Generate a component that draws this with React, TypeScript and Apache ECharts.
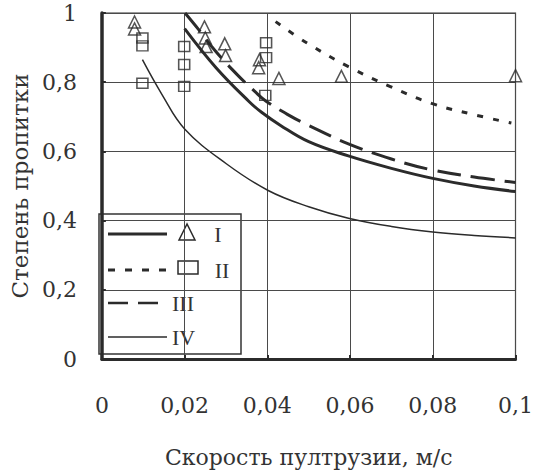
import React, { useEffect, useRef } from "react";
import * as echarts from "echarts";

// ---- data ----
const xTickLabels = ["0", "0,02", "0,04", "0,06", "0,08", "0,1"];
const yTickLabels = ["0", "0,2", "0,4", "0,6", "0,8", "1"];

const curveIx = [0.02, 0.0276, 0.0355, 0.0386, 0.0432, 0.05, 0.0596, 0.07, 0.08, 0.09, 0.1];
const curveIy = [0.955, 0.842, 0.745, 0.713, 0.675, 0.628, 0.587, 0.551, 0.522, 0.5, 0.484];

const curveIIx = [0.042, 0.0495, 0.0596, 0.0696, 0.0799, 0.09, 0.099];
const curveIIy = [0.975, 0.914, 0.845, 0.788, 0.738, 0.706, 0.682];

const curveIIIx = [0.0201, 0.0234, 0.0276, 0.0327, 0.0369, 0.0397, 0.0456, 0.05, 0.0596, 0.07, 0.08, 0.09, 0.1];
const curveIIIy = [1.0, 0.952, 0.888, 0.822, 0.774, 0.745, 0.702, 0.675, 0.622, 0.578, 0.546, 0.526, 0.51];

const curveIVx = [0.0098, 0.0145, 0.02, 0.03, 0.0402, 0.05, 0.0596, 0.07, 0.08, 0.09, 0.1];
const curveIVy = [0.865, 0.765, 0.665, 0.565, 0.487, 0.44, 0.407, 0.383, 0.367, 0.357, 0.35];

const trianglesX = [0.0079, 0.0079, 0.0248, 0.025, 0.0252, 0.0297, 0.0299, 0.0381, 0.0379, 0.0428, 0.0579, 0.1];
const trianglesY = [0.974, 0.954, 0.96, 0.928, 0.903, 0.911, 0.877, 0.865, 0.842, 0.811, 0.817, 0.819];

const squaresX = [0.0098, 0.0098, 0.0098, 0.0199, 0.0199, 0.0199, 0.0397, 0.0397, 0.0395];
const squaresY = [0.928, 0.905, 0.797, 0.903, 0.851, 0.788, 0.914, 0.871, 0.762];

const seriesNames = ["I", "II", "III", "IV"];
const xTitle = "Скорость пултрузии, м/с";
const yTitle = "Степень пропитки";

const zip = (xs: number[], ys: number[]) => xs.map((x, i) => [x, ys[i]]);

const INK = "#2b2b2b";
const TXT = "#333333";
const FONT = "DejaVu Serif";
const LFONT = "Liberation Serif";

export default function App() {
  const ref = useRef<HTMLDivElement>(null);
  useEffect(() => {
    if (!ref.current) return;
    const chart = echarts.init(ref.current, undefined, { renderer: "svg" });

    const lx1 = 108, lx2 = 167;
    const rows = [234, 270, 303, 337];
    const lgFont = `22px "${LFONT}"`;
    const option: any = {
      animation: false,
      backgroundColor: "#ffffff",
      grid: {
        left: 95, right: 13, top: 13, bottom: 111,
        show: true, borderColor: "#333", borderWidth: 1.2,
      },
      xAxis: {
        type: "value", min: 0, max: 0.1, interval: 0.02,
        name: xTitle, nameLocation: "middle", nameGap: 87,
        nameTextStyle: { fontFamily: FONT, fontSize: 22, color: TXT },
        axisLine: { show: true, lineStyle: { color: INK, width: 3 } },
        axisTick: { show: true, inside: true, length: 4, lineStyle: { color: INK, width: 2 } },
        axisLabel: {
          margin: 35, fontFamily: FONT, fontSize: 22, color: TXT,
          formatter: (v: number) => xTickLabels[Math.round(v / 0.02)] ?? "",
        },
        splitLine: { show: true, lineStyle: { color: "#4a4a4a", width: 1 } },
      },
      yAxis: {
        type: "value", min: 0, max: 1, interval: 0.2,
        name: yTitle, nameLocation: "middle", nameGap: 68, nameRotate: 90,
        nameTextStyle: { fontFamily: FONT, fontSize: 23, color: TXT },
        axisLine: { show: true, lineStyle: { color: INK, width: 3.5 } },
        axisTick: { show: true, inside: true, length: 4, lineStyle: { color: INK, width: 2 } },
        axisLabel: {
          margin: 25, fontFamily: FONT, fontSize: 22, color: TXT,
          formatter: (v: number) => yTickLabels[Math.round(v / 0.2)] ?? "",
        },
        splitLine: { show: true, lineStyle: { color: "#4a4a4a", width: 1 } },
      },
      series: [
        {
          name: seriesNames[0], type: "line", smooth: 0.4, showSymbol: false,
          data: zip(curveIx, curveIy),
          lineStyle: { color: INK, width: 3 },
        },
        {
          name: seriesNames[1], type: "line", smooth: 0.4, showSymbol: false,
          data: zip(curveIIx, curveIIy),
          lineStyle: { color: INK, width: 3, type: [6, 10] },
        },
        {
          name: seriesNames[2], type: "line", smooth: 0.4, showSymbol: false,
          data: zip(curveIIIx, curveIIIy),
          lineStyle: { color: INK, width: 3, type: [24, 10] },
        },
        {
          name: seriesNames[3], type: "line", smooth: 0.4, showSymbol: false,
          data: zip(curveIVx, curveIVy),
          lineStyle: { color: INK, width: 1.5 },
        },
        {
          name: "I-pts", type: "scatter", symbol: "triangle", symbolSize: [12, 12],
          data: zip(trianglesX, trianglesY),
          itemStyle: { color: "rgba(255,255,255,0)", borderColor: INK, borderWidth: 1.5 },
          z: 5,
        },
        {
          name: "II-pts", type: "scatter", symbol: "rect", symbolSize: [11, 10],
          data: zip(squaresX, squaresY),
          itemStyle: { color: "rgba(255,255,255,0)", borderColor: INK, borderWidth: 1.5 },
          z: 5,
        },
      ],
      graphic: [
        {
          type: "group", z: 100,
          children: [
            { type: "rect", shape: { x: 99, y: 214, width: 142, height: 140 },
              style: { fill: "#fff", stroke: "#333", lineWidth: 1.5 } },
            { type: "line", shape: { x1: lx1, y1: rows[0], x2: lx2, y2: rows[0] },
              style: { stroke: INK, lineWidth: 3 } },
            { type: "polygon", shape: { points: [[187, 224], [179, 240], [195, 240]] },
              style: { fill: "none", stroke: INK, lineWidth: 1.5 } },
            { type: "text", x: 218, y: rows[0], style: { text: seriesNames[0], font: lgFont, fill: TXT, align: "center", verticalAlign: "middle" } },
            { type: "line", shape: { x1: lx1, y1: rows[1], x2: lx2, y2: rows[1] },
              style: { stroke: INK, lineWidth: 3, lineDash: [7, 10] } },
            { type: "rect", shape: { x: 178, y: 261, width: 20, height: 13 },
              style: { fill: "none", stroke: INK, lineWidth: 1.5 } },
            { type: "text", x: 222, y: rows[1], style: { text: seriesNames[1], font: lgFont, fill: TXT, align: "center", verticalAlign: "middle" } },
            { type: "line", shape: { x1: lx1, y1: rows[2], x2: lx2, y2: rows[2] },
              style: { stroke: INK, lineWidth: 2.5, lineDash: [20, 10] } },
            { type: "text", x: 172, y: rows[2], style: { text: seriesNames[2], font: lgFont, fill: TXT, align: "left", verticalAlign: "middle" } },
            { type: "line", shape: { x1: lx1, y1: rows[3], x2: lx2, y2: rows[3] },
              style: { stroke: INK, lineWidth: 1.5 } },
            { type: "text", x: 172, y: rows[3], style: { text: seriesNames[3], font: lgFont, fill: TXT, align: "left", verticalAlign: "middle" } },
          ],
        },
      ],
    };
    chart.setOption(option);
    return () => chart.dispose();
  }, []);
  return (
    <div
      ref={ref}
      style={{ position: "fixed", left: 0, top: 0, width: 536, height: 473 }}
    />
  );
}
